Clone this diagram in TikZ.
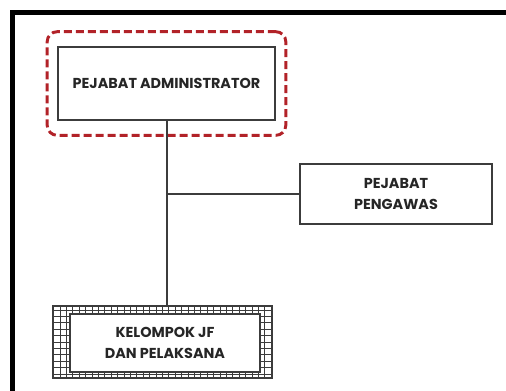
\documentclass[tikz,border=0pt]{standalone}
\usepackage{fontspec}
\setmainfont{Poppins}
\usepackage{xcolor}
\usepackage{tikz}
\usetikzlibrary{fit}
\definecolor{darkred}{RGB}{178, 34, 40}
\definecolor{boxline}{RGB}{60, 60, 60}

\tikzset{
  unitbox/.style={draw=boxline, line width=1.2pt, fill=white, align=center,
    inner sep=0pt, font=\fontsize{10.8}{16}\selectfont\bfseries, text=black!85},
  gridbox/.style={draw=boxline, line width=0.9pt, inner sep=0pt,
    path picture={\draw[boxline, line width=0.7pt, step=4.8pt]
      (path picture bounding box.south west) grid (path picture bounding box.north east);}},
  redframe/.style={draw=darkred, line width=2.2pt, dash pattern=on 6pt off 3pt,
    rounded corners=7.5pt},
  link/.style={draw=boxline, line width=1.5pt}
}

\begin{document}
\begin{tikzpicture}[x=0.75pt,y=0.75pt,yscale=-1,xscale=1]
\useasboundingbox (0,0) rectangle (506,390);

%Outer frame (only top and left edge show)
\draw [line width=3.75pt, line join=miter] (12.5,395) -- (12.5,12.5) -- (512,12.5) ;

% Boxes
\node [unitbox, minimum width=162.75pt, minimum height=54.75pt] (admin) at (166.5,83.5) {PEJABAT ADMINISTRATOR};
\node [redframe, fit=(admin), inner xsep=7.5pt, inner ysep=10.9pt] (adminframe) {};
\node [unitbox, minimum width=144pt, minimum height=45pt] (pengawas) at (396,194) {PEJABAT\\PENGAWAS};
\node [gridbox, minimum width=164.25pt, minimum height=54pt] (kelompokgrid) at (162.5,342) {};
\node [unitbox, minimum width=142.5pt, minimum height=43.5pt] (kelompok) at (165,343) {KELOMPOK JF\\DAN PELAKSANA};

% Connectors
\coordinate (branch) at (admin.south |- pengawas.west);
\draw [link] (admin.south) -- (admin.south |- kelompokgrid.north) ;
\draw [link] (branch) -- (pengawas.west) ;

\end{tikzpicture}
\end{document}
